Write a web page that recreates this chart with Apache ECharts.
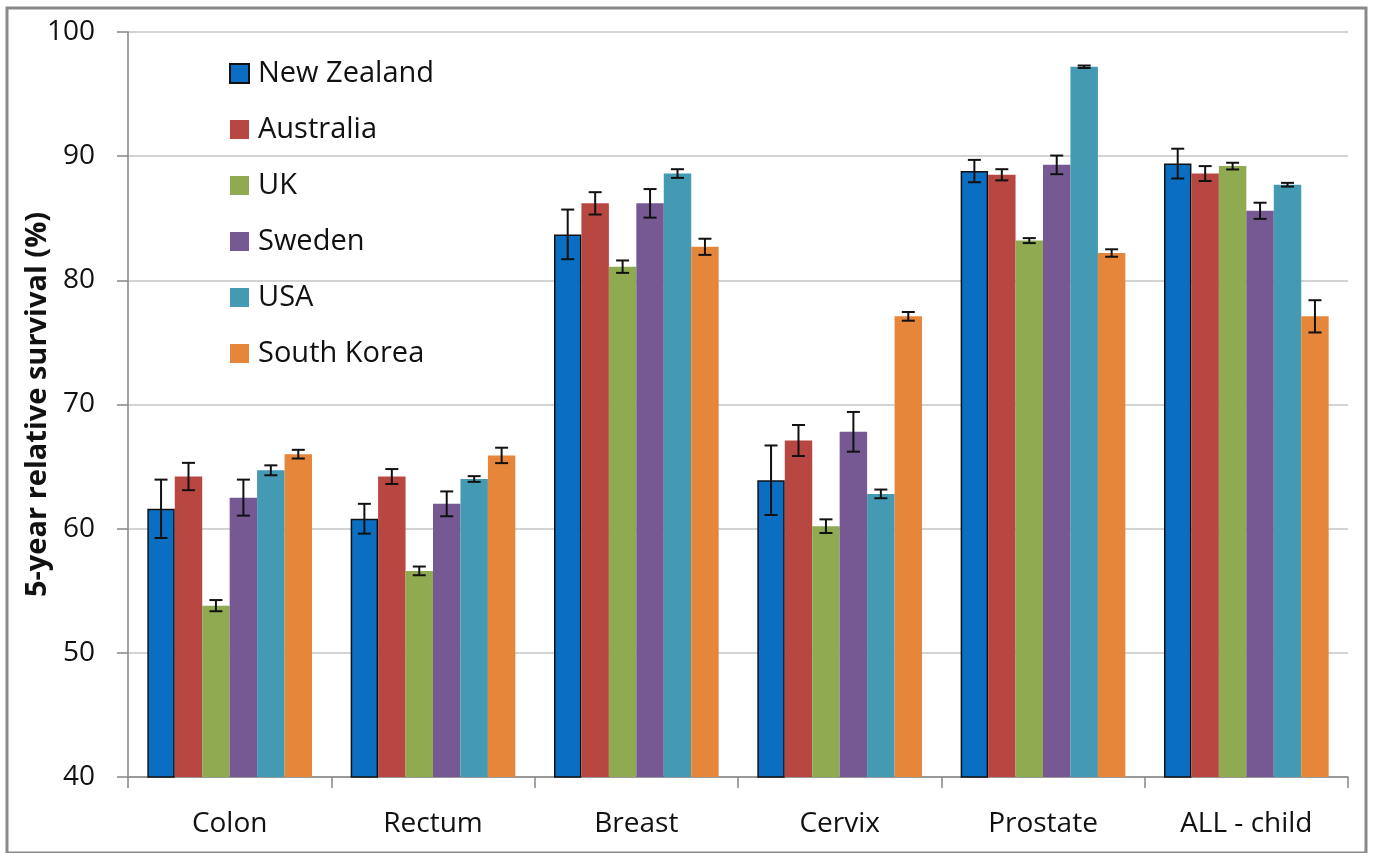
<!DOCTYPE html>
<html>
<head>
<meta charset="utf-8">
<script src="https://cdn.jsdelivr.net/npm/echarts@6/dist/echarts.min.js"></script>
<style>
  html, body { margin: 0; padding: 0; background: #fff; }
  #chart { width: 1375px; height: 853px; }
</style>
</head>
<body>
<div id="chart"></div>
<script>
// Cancer sites on the x axis
const categories = ['Colon', 'Rectum', 'Breast', 'Cervix', 'Prostate', 'ALL - child'];

// 5-year relative survival (%) by country
const newZealand = [61.6, 60.8, 83.7, 63.9, 88.8, 89.4];
const australia  = [64.2, 64.2, 86.2, 67.1, 88.5, 88.6];
const uk         = [53.8, 56.6, 81.1, 60.2, 83.2, 89.2];
const sweden     = [62.5, 62.0, 86.2, 67.8, 89.3, 85.6];
const usa        = [64.7, 64.0, 88.6, 62.8, 97.2, 87.7];
const southKorea = [66.0, 65.9, 82.7, 77.1, 82.2, 77.1];

// Half-width of the 95% confidence interval
const newZealandErr = [2.35, 1.2, 2.0, 2.8, 0.9, 1.2];
const australiaErr  = [1.1, 0.6, 0.9, 1.25, 0.45, 0.6];
const ukErr         = [0.45, 0.35, 0.5, 0.55, 0.2, 0.27];
const swedenErr     = [1.45, 1.0, 1.15, 1.6, 0.75, 0.65];
const usaErr        = [0.4, 0.23, 0.35, 0.35, 0.1, 0.15];
const southKoreaErr = [0.35, 0.62, 0.65, 0.35, 0.3, 1.3];

// Y axis ticks
const yMin = 40, yMax = 100, yStep = 10;

const countries = [
  { name: 'New Zealand', values: newZealand, err: newZealandErr, color: '#0A6FC2', border: true },
  { name: 'Australia',   values: australia,  err: australiaErr,  color: '#B84742' },
  { name: 'UK',          values: uk,         err: ukErr,         color: '#8FAA50' },
  { name: 'Sweden',      values: sweden,     err: swedenErr,     color: '#765893' },
  { name: 'USA',         values: usa,        err: usaErr,        color: '#4499B3' },
  { name: 'South Korea', values: southKorea, err: southKoreaErr, color: '#E5863B' }
];

const CAT_GAP = 0.19;       // fraction of category left empty
const N = countries.length;
const FONT = '"Open Sans", "Noto Sans", sans-serif';

const series = [];
countries.forEach(function (c) {
  series.push({
    name: c.name,
    type: 'bar',
    data: c.values,
    barGap: '0%',
    barCategoryGap: (CAT_GAP * 100) + '%',
    itemStyle: {
      color: c.color,
      borderColor: c.border ? '#111' : c.color,
      borderWidth: c.border ? 1.5 : 0
    },
    emphasis: { disabled: true },
    z: 2
  });
});

// Error bars: one custom series per country, offset to sit on its own bar
countries.forEach(function (c, idx) {
  const errData = c.values.map(function (v, i) { return [i, v - c.err[i], v + c.err[i]]; });
  series.push({
    name: c.name + ' CI',
    type: 'custom',
    data: errData,
    z: 5,
    silent: true,
    encode: { x: 0, y: [1, 2] },
    renderItem: function (params, api) {
      const catW = api.size([1, 0])[0];
      const barW = catW * (1 - CAT_GAP) / N;
      const off = (idx - (N - 1) / 2) * barW;
      const lo = api.coord([api.value(0), api.value(1)]);
      const hi = api.coord([api.value(0), api.value(2)]);
      const x = lo[0] + off;
      const half = 6.5;
      const style = { stroke: '#111', lineWidth: 2, fill: null };
      return {
        type: 'group',
        children: [
          { type: 'line', shape: { x1: x, y1: lo[1], x2: x, y2: hi[1] }, style: style },
          { type: 'line', shape: { x1: x - half, y1: lo[1], x2: x + half, y2: lo[1] }, style: style },
          { type: 'line', shape: { x1: x - half, y1: hi[1], x2: x + half, y2: hi[1] }, style: style }
        ]
      };
    }
  });
});

const chart = echarts.init(document.getElementById('chart'), null, { renderer: 'canvas' });
chart.setOption({
  animation: false,
  backgroundColor: '#ffffff',
  grid: { left: 128, right: 27, top: 32, bottom: 76, containLabel: false },
  legend: {
    data: countries.map(function (c) { return c.name; }),
    orient: 'vertical',
    left: 224,
    top: 54,
    itemWidth: 19,
    itemHeight: 19,
    itemGap: 27,
    icon: 'rect',
    selectedMode: false,
    textStyle: {
      fontFamily: FONT,
      fontSize: 29,
      lineHeight: 29,
      color: '#111',
      padding: [0, 0, 0, 4]
    }
  },
  xAxis: {
    type: 'category',
    data: categories,
    axisLine: { lineStyle: { color: '#868686', width: 1.5 } },
    axisTick: { show: true, alignWithLabel: false, length: 11, lineStyle: { color: '#868686', width: 1.5 } },
    axisLabel: { fontFamily: FONT, fontSize: 28, color: '#111', margin: 33 },
    splitLine: { show: false }
  },
  yAxis: {
    type: 'value',
    min: yMin,
    max: yMax,
    interval: yStep,
    name: '5-year relative survival (%)',
    nameLocation: 'middle',
    nameGap: 76,
    nameMoveOverlap: false,
    nameRotate: 90,
    nameTextStyle: { fontFamily: FONT, fontSize: 29, fontWeight: 'bold', color: '#111' },
    axisLine: { show: true, lineStyle: { color: '#868686', width: 1.5 } },
    axisTick: { show: true, inside: false, length: 11, lineStyle: { color: '#868686', width: 1.5 } },
    axisLabel: { fontFamily: FONT, fontSize: 28, color: '#111', margin: 33 },
    splitLine: { show: true, lineStyle: { color: '#C4C4C4', width: 1.5 } }
  },
  graphic: [{
    type: 'rect',
    shape: { x: 7, y: 8, width: 1359, height: 845 },
    style: { fill: null, stroke: '#8A8A8A', lineWidth: 3 },
    silent: true,
    z: 100
  }],
  series: series
});
</script>
</body>
</html>
